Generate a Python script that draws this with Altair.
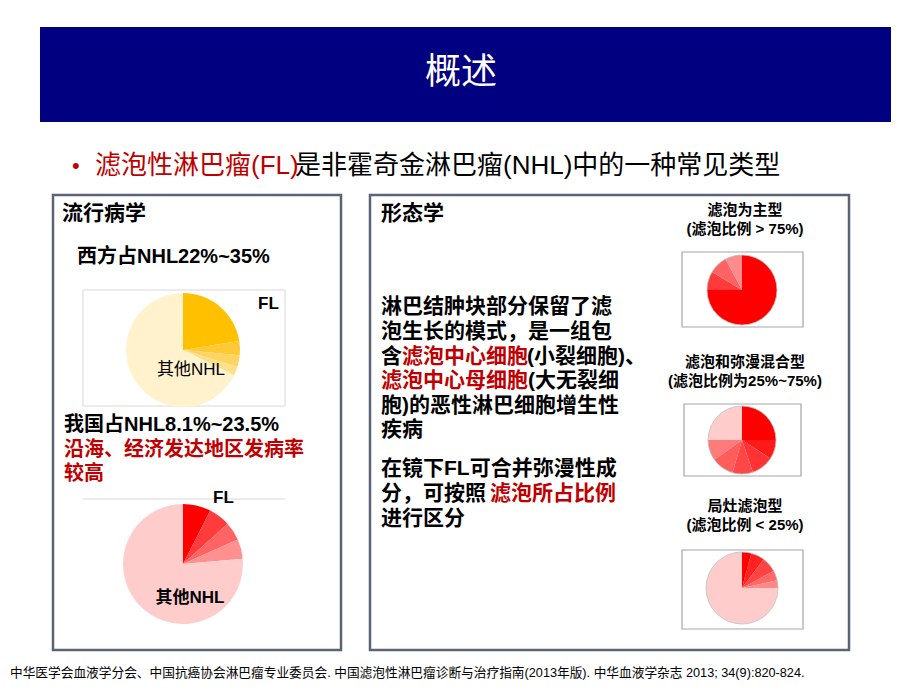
import altair as alt
import pandas as pd

# ---------------- data ----------------
pie_west_vals = [22.5, 4.0, 3.3, 2.5, 67.7]
pie_west_colors = ["#FFC000", "#FFC935", "#FFD560", "#FFE08A", "#FFF2CC"]
pie_china_vals = [7.5, 5.8, 5.0, 5.3, 76.4]
pie_china_colors = ["#FF0000", "#FF3B3B", "#FF6464", "#FF9090", "#FFCCCC"]
pie_fol_vals = [75.0, 8.6, 8.6, 7.8]
pie_fol_colors = ["#FF0000", "#FF3A3A", "#FF6262", "#FF8C8C"]
pie_mix_vals = [25.0, 9.2, 10.6, 9.7, 10.6, 9.9, 25.0]
pie_mix_colors = ["#FF0000", "#FF1A1A", "#FF3333", "#FF4747", "#FF5C5C", "#FF7A7A", "#FFCCCC"]
pie_focal_vals = [4.2, 6.1, 6.9, 4.4, 3.4, 75.0]
pie_focal_colors = ["#FF0000", "#FF2020", "#FF4444", "#FF6868", "#FF8888", "#FFCCCC"]

title_text = "概述"
bullet_red = "滤泡性淋巴瘤(FL)"
bullet_black = "是非霍奇金淋巴瘤(NHL)中的一种常见类型"
left_heading = "流行病学"
right_heading = "形态学"
west_text = "西方占NHL22%~35%"
china_text = "我国占NHL8.1%~23.5%"
china_red_lines = ["沿海、经济发达地区发病率", "较高"]
fl_label = "FL"
other_label = "其他NHL"
captions = [["滤泡为主型", "(滤泡比例 > 75%)"],
            ["滤泡和弥漫混合型", "(滤泡比例为25%~75%)"],
            ["局灶滤泡型", "(滤泡比例 < 25%)"]]
body_lines = [
    [("淋巴结肿块部分保留了滤", "k")],
    [("泡生长的模式，是一组包", "k")],
    [("含", "k"), ("滤泡中心细胞", "r"), ("(小裂细胞)、", "k")],
    [("滤泡中心母细胞", "r"), ("(大无裂细", "k")],
    [("胞)的恶性淋巴细胞增生性", "k")],
    [("疾病", "k")],
    [("在镜下FL可合并弥漫性成", "k")],
    [("分，可按照", "k"), ("滤泡所占比例", "r")],
    [("进行区分", "k")],
]
footer_text = "中华医学会血液学分会、中国抗癌协会淋巴瘤专业委员会. 中国滤泡性淋巴瘤诊断与治疗指南(2013年版). 中华血液学杂志 2013; 34(9):820-824."

# ---------------- layout helpers ----------------
FONT = "Liberation Sans, Noto Sans CJK SC, sans-serif"
NARROW = "Liberation Sans Narrow, Liberation Sans, Noto Sans CJK SC, sans-serif"
RED = "#C00000"
OFF = 8  # page margin


def one():
    return alt.Data(values=[{}])


def txt(s, X, Y, size, color="#000000", weight="bold", align="left", font=FONT):
    return alt.Chart(alt.Data(values=[{"t": s}])).mark_text(
        align=align, baseline="middle", fontSize=size, font=font,
        fontWeight=weight, color=color
    ).encode(x=alt.value(X - OFF), y=alt.value(Y - OFF), text="t:N")


def box(x0, x1, y0, y1, stroke, sw, fill="white"):
    return alt.Chart(one()).mark_rect(fill=fill, stroke=stroke, strokeWidth=sw).encode(
        x=alt.value(x0 - OFF), x2=alt.value(x1 - OFF),
        y=alt.value(y0 - OFF), y2=alt.value(y1 - OFF))


def pie(vals, cols, cx, cy, r):
    df = pd.DataFrame({"i": list(range(len(vals))), "v": vals, "c": cols})
    return alt.Chart(df).mark_arc(radius=r).encode(
        theta=alt.Theta("v:Q", stack=True),
        color=alt.Color("c:N", scale=None),
        order=alt.Order("i:Q"),
        x=alt.value(cx - OFF), y=alt.value(cy - OFF))


def ring(cx, cy, r, color):
    return alt.Chart(one()).mark_point(
        shape="circle", filled=False, stroke=color, strokeWidth=0.8, opacity=1,
        size=4 * r * r).encode(x=alt.value(cx - OFF), y=alt.value(cy - OFF))


layers = []
# title bar
layers.append(box(40, 891, 27, 122, "#000080", 0, fill="#000080"))
layers.append(txt(title_text, 461, 73, 36, color="#FFFFFF", weight="normal", align="center",
                  font="Noto Sans CJK SC"))
# bullet line
layers.append(txt("•", 72, 166, 22, color=RED, weight="normal"))
layers.append(txt(bullet_red, 95, 166, 26, color=RED, weight="normal"))
layers.append(txt(bullet_black, 295, 166, 26, color="#000000", weight="normal"))

# panels
layers.append(box(53, 341, 195, 650, "#5B6477", 2.5))
layers.append(box(370, 849, 195, 650, "#5B6477", 2.5))

# left panel
layers.append(txt(left_heading, 62, 214, 21))
layers.append(txt(west_text, 77, 257, 20))
layers.append(box(83, 285, 290, 406, "#D9D9D9", 1))
layers.append(pie(pie_west_vals, pie_west_colors, 183, 350, 57))
layers.append(txt(fl_label, 258, 304, 17))
layers.append(txt(other_label, 191, 370, 17, weight="normal", align="center"))
layers.append(txt(china_text, 64, 425, 20))
layers.append(txt(china_red_lines[0], 64, 450, 20, color=RED))
layers.append(txt(china_red_lines[1], 64, 474, 20, color=RED))
layers.append(alt.Chart(one()).mark_rule(color="#D9D9D9", strokeWidth=1).encode(
    x=alt.value(83 - OFF), x2=alt.value(285 - OFF), y=alt.value(499 - OFF)))
layers.append(pie(pie_china_vals, pie_china_colors, 183, 564, 60))
layers.append(txt(fl_label, 213, 498, 17))
layers.append(txt(other_label, 190, 598, 17, align="center"))

# right panel
layers.append(txt(right_heading, 381, 214, 21))
cap_y = [(210, 229), (362, 381), (506, 525)]
for (a, b), (y1, y2) in zip(captions, cap_y):
    layers.append(txt(a, 745, y1, 15, align="center"))
    layers.append(txt(b, 745, y2, 15, align="center"))

layers.append(box(682, 803, 252, 327, "#A6A6A6", 1.2))
layers.append(pie(pie_fol_vals, pie_fol_colors, 742, 290, 35))
layers.append(ring(742, 290, 35, "#BFBFBF"))
layers.append(box(684, 801, 404, 476, "#A6A6A6", 1.2))
layers.append(pie(pie_mix_vals, pie_mix_colors, 742, 440, 34))
layers.append(ring(742, 440, 34, "#BFBFBF"))
layers.append(box(682, 803, 550, 629, "#A6A6A6", 1.2))
layers.append(pie(pie_focal_vals, pie_focal_colors, 742, 588, 36))
layers.append(ring(742, 588, 36, "#BFBFBF"))

body_y = [307, 332, 357, 381, 406, 430, 469, 494, 519]
seg_x = {2: [381, 402, 527], 3: [381, 528], 7: [381, 490]}
for li, (segs, y) in enumerate(zip(body_lines, body_y)):
    xs = seg_x.get(li, [381])
    for (s, c), X in zip(segs, xs):
        layers.append(txt(s, X, y, 21, color=RED if c == "r" else "#000000"))

# footer
layers.append(txt(footer_text, 10, 673, 12.7, weight="normal", font=NARROW))

chart = alt.layer(*layers).resolve_scale(theta="independent").properties(
    width=904, height=674, padding=0, autosize="none", background="white"
).configure_view(strokeWidth=0)

chart.save("out.html", embed_options={"renderer": "svg", "actions": False})
